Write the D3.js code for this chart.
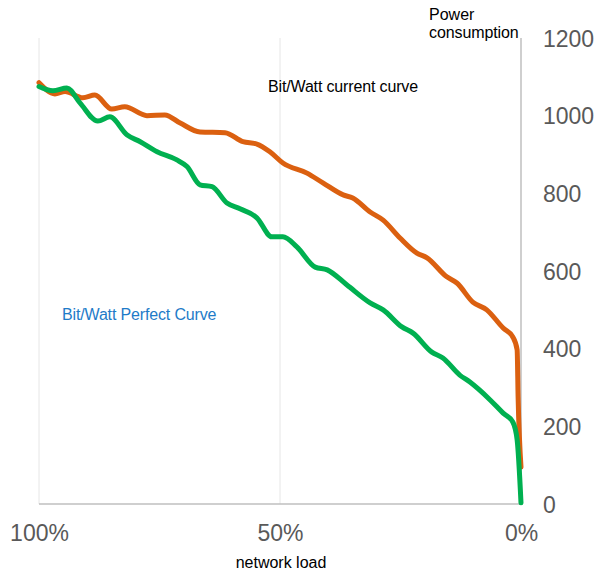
<!DOCTYPE html>
<html>
<head>
<meta charset="utf-8">
<script src="https://cdn.jsdelivr.net/npm/d3@7"></script>
<style>
  html, body { margin: 0; padding: 0; background: #fff; }
  svg { display: block; font-family: "Liberation Sans", Arial, sans-serif; }
</style>
</head>
<body>
<svg id="chart" width="610" height="573"></svg>
<script>
// network load (%) for each series, listed from 100% down to 0%
const currentLoad = [100, 96.7, 94.6, 90.9, 88.4, 84.9, 82.2, 77.6, 73.9, 70.7, 66.6, 61.4, 57.7, 54.8, 52.1, 49.4, 44.4, 41.1, 36.9, 34.9, 31.3, 28.6, 25.1, 21.6, 19.5, 15.4, 13.3, 10.0, 7.1, 3.7, 1.7, 0.8, 0.6, 0];
const currentPower = [1085, 1056, 1062, 1046, 1053, 1017, 1023, 1000, 1002, 981, 958, 956, 933, 927, 907, 878, 852, 827, 796, 788, 752, 731, 685, 646, 634, 585, 569, 520, 500, 453, 430, 397, 276, 95];
const perfectLoad = [100, 97.1, 94.2, 91.5, 87.8, 85.3, 81.7, 79.0, 75.5, 71.4, 69.3, 66.6, 64.1, 61.0, 58.3, 54.8, 51.7, 49.4, 46.5, 42.7, 40.2, 36.1, 31.3, 28.6, 24.7, 22.4, 18.5, 16.2, 12.7, 10.6, 6.4, 3.7, 1.7, 0.8, 0];
const perfectPower = [1075, 1064, 1071, 1033, 986, 997, 950, 933, 907, 886, 869, 822, 817, 775, 760, 737, 688, 688, 662, 610, 603, 564, 518, 500, 456, 440, 391, 376, 332, 314, 268, 234, 211, 165, 3];
const xTicks = [100, 50, 0];
const xTickLabels = ["100%", "50%", "0%"];
const yTicks = [0, 200, 400, 600, 800, 1000, 1200];
const seriesNames = ["Bit/Watt current curve", "Bit/Watt Perfect Curve"];
const seriesColors = ["#DB6010", "#00B050"];
const yAxisTitle = ["Power", "consumption"];
const xAxisTitle = "network load";

const svg = d3.select("#chart");
const x = d3.scaleLinear().domain([100, 0]).range([39, 521]);
const y = d3.scaleLinear().domain([0, 1200]).range([504, 38]);

// vertical gridlines
svg.append("g").selectAll("line").data([100, 50]).join("line")
  .attr("x1", d => x(d)).attr("x2", d => x(d))
  .attr("y1", y(1200)).attr("y2", y(0))
  .attr("stroke", "#e6e6e6").attr("stroke-width", 1);

// x baseline
svg.append("line")
  .attr("x1", x(100)).attr("x2", x(0)).attr("y1", y(0)).attr("y2", y(0))
  .attr("stroke", "#bfbfbf").attr("stroke-width", 1.5);
// right value axis line
svg.append("line")
  .attr("x1", x(0)).attr("x2", x(0)).attr("y1", y(1200)).attr("y2", y(0))
  .attr("stroke", "#bfbfbf").attr("stroke-width", 1.5);

// y tick labels (right side)
const yAxis = d3.axisRight(y).tickValues(yTicks).tickSize(0).tickPadding(0)
  .tickFormat(d3.format("d"));
const gy = svg.append("g").attr("transform", `translate(543,0)`).call(yAxis);
gy.select(".domain").remove();
gy.selectAll("text").attr("font-size", 23).attr("fill", "#595959")
  .attr("font-family", "Liberation Sans, Arial, sans-serif").attr("dy", "0.36em");

// x tick labels
const xAxis = d3.axisBottom(x).tickValues(xTicks).tickSize(0).tickPadding(0)
  .tickFormat((d, i) => xTickLabels[i]);
const gx = svg.append("g").attr("transform", `translate(0,541)`).call(xAxis);
gx.select(".domain").remove();
gx.selectAll("text").attr("font-size", 23).attr("fill", "#595959")
  .attr("font-family", "Liberation Sans, Arial, sans-serif").attr("dy", 0);

// lines
const line = d3.line().x(d => x(d[0])).y(d => y(d[1])).curve(d3.curveMonotoneX);
const series = [
  d3.zip(currentLoad, currentPower),
  d3.zip(perfectLoad, perfectPower)
];
svg.append("g").selectAll("path").data(series).join("path")
  .attr("d", line)
  .attr("fill", "none")
  .attr("stroke", (d, i) => seriesColors[i])
  .attr("stroke-width", 5)
  .attr("stroke-linejoin", "round")
  .attr("stroke-linecap", "round");

// series labels
svg.append("text").attr("x", 268).attr("y", 92).attr("font-size", 16)
  .attr("fill", "#000").attr("letter-spacing", -0.15).text(seriesNames[0]);
svg.append("text").attr("x", 62).attr("y", 320).attr("font-size", 16)
  .attr("fill", "#1E7BC8").attr("letter-spacing", -0.15).text(seriesNames[1]);

// axis titles
svg.append("text").attr("x", 429).attr("y", 20).attr("font-size", 16)
  .attr("fill", "#000").text(yAxisTitle[0]);
svg.append("text").attr("x", 429).attr("y", 38).attr("font-size", 16)
  .attr("fill", "#000").attr("letter-spacing", -0.1).text(yAxisTitle[1]);
svg.append("text").attr("x", 281).attr("y", 568).attr("font-size", 16)
  .attr("text-anchor", "middle").attr("fill", "#000").text(xAxisTitle);
</script>
</body>
</html>
